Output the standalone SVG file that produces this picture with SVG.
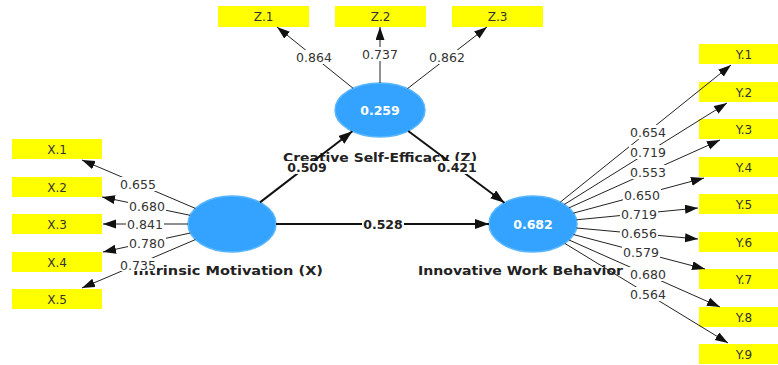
<svg xmlns="http://www.w3.org/2000/svg" width="778" height="365" viewBox="0 0 778 365">
<style>
.ind rect{fill:#ffff00}
.ind text{font-family:"DejaVu Sans","Liberation Sans",sans-serif;font-size:12px;fill:#333;text-anchor:middle}
.lv ellipse{fill:#33a3ff;stroke:#5ab6ff;stroke-width:1.5}
.lv .val{font-family:"DejaVu Sans","Liberation Sans",sans-serif;font-size:12.5px;font-weight:bold;fill:#fff;text-anchor:middle}
.name{font-family:"DejaVu Sans","Liberation Sans",sans-serif;font-size:13px;font-weight:bold;fill:#222}
.ld{stroke:#222;stroke-width:1;fill:none;marker-end:url(#ah)}
.pth{stroke:#111;stroke-width:2;fill:none;marker-end:url(#ah2)}
.bg{fill:#fff}
.lt{font-family:"DejaVu Sans","Liberation Sans",sans-serif;font-size:12.5px;fill:#333;text-anchor:middle}
.pt{font-family:"DejaVu Sans","Liberation Sans",sans-serif;font-size:12.5px;font-weight:bold;fill:#222;text-anchor:middle}
</style>
<defs>
<marker id="ah" markerUnits="userSpaceOnUse" markerWidth="14" markerHeight="10" refX="13" refY="4.5" orient="auto"><path d="M0,0 L13,4.5 L0,9 z" fill="#111"/></marker>
<marker id="ah2" markerUnits="userSpaceOnUse" markerWidth="15" markerHeight="11" refX="14" refY="5" orient="auto"><path d="M0,0 L14,5 L0,10 z" fill="#111"/></marker>
</defs>
<rect width="778" height="365" fill="#fff"/>

<g id="x1" class="ind"><rect x="12" y="139" width="90" height="20"/><text x="57" y="153.5">X.1</text></g>
<g id="x2" class="ind"><rect x="12" y="177" width="90" height="20"/><text x="57" y="191.5">X.2</text></g>
<g id="x3" class="ind"><rect x="12" y="214" width="90" height="20"/><text x="57" y="228.5">X.3</text></g>
<g id="x4" class="ind"><rect x="12" y="252" width="90" height="20"/><text x="57" y="266.5">X.4</text></g>
<g id="x5" class="ind"><rect x="12" y="289" width="90" height="20"/><text x="57" y="303.5">X.5</text></g>

<g id="z1" class="ind"><rect x="218" y="6" width="91" height="21"/><text x="263.5" y="21">Z.1</text></g>
<g id="z2" class="ind"><rect x="335" y="6" width="91" height="21"/><text x="380.5" y="21">Z.2</text></g>
<g id="z3" class="ind"><rect x="452" y="6" width="91" height="21"/><text x="497.5" y="21">Z.3</text></g>

<g id="y1" class="ind"><rect x="699" y="44" width="90" height="20"/><text x="744" y="58.5">Y.1</text></g>
<g id="y2" class="ind"><rect x="699" y="82" width="90" height="20"/><text x="744" y="96.5">Y.2</text></g>
<g id="y3" class="ind"><rect x="699" y="119" width="90" height="20"/><text x="744" y="133.5">Y.3</text></g>
<g id="y4" class="ind"><rect x="699" y="157" width="90" height="20"/><text x="744" y="171.5">Y.4</text></g>
<g id="y5" class="ind"><rect x="699" y="194" width="90" height="20"/><text x="744" y="208.5">Y.5</text></g>
<g id="y6" class="ind"><rect x="699" y="232" width="90" height="20"/><text x="744" y="246.5">Y.6</text></g>
<g id="y7" class="ind"><rect x="699" y="269" width="90" height="20"/><text x="744" y="283.5">Y.7</text></g>
<g id="y8" class="ind"><rect x="699" y="307" width="90" height="20"/><text x="744" y="321.5">Y.8</text></g>
<g id="y9" class="ind"><rect x="699" y="344" width="90" height="20"/><text x="744" y="358.5">Y.9</text></g>

<g id="X" class="lv"><ellipse cx="232" cy="224" rx="44" ry="28"/><text class="name" x="133" y="275" textLength="190" lengthAdjust="spacingAndGlyphs">Intrinsic Motivation (X)</text></g>
<g id="Z" class="lv"><ellipse cx="380" cy="110" rx="45" ry="27"/><text class="val" x="380" y="114.5">0.259</text><text class="name" x="283" y="162" textLength="194" lengthAdjust="spacingAndGlyphs">Creative Self-Efficacy (Z)</text></g>
<g id="Y" class="lv"><ellipse cx="533" cy="224" rx="44" ry="28"/><text class="val" x="533" y="228.5">0.682</text><text class="name" x="418" y="275" textLength="205" lengthAdjust="spacingAndGlyphs">Innovative Work Behavior</text></g>

<g id="connectors">
<line class="ld" x1="195.4" y1="208.4" x2="82" y2="160"/>
<line class="ld" x1="190.2" y1="215.3" x2="102" y2="197"/>
<line class="ld" x1="188" y1="224" x2="103" y2="224"/>
<line class="ld" x1="190.3" y1="233" x2="103" y2="252"/>
<line class="ld" x1="195.4" y1="239.6" x2="82" y2="288"/>

<line class="ld" x1="353.1" y1="88.3" x2="277" y2="27"/>
<line class="ld" x1="380" y1="83" x2="380" y2="27"/>
<line class="ld" x1="407.5" y1="88.6" x2="487" y2="27"/>

<line class="ld" x1="560.3" y1="202.1" x2="731" y2="65"/>
<line class="ld" x1="564.4" y1="204.4" x2="727" y2="103"/>
<line class="ld" x1="568.9" y1="207.9" x2="720" y2="140"/>
<line class="ld" x1="573.5" y1="213.1" x2="704" y2="178"/>
<line class="ld" x1="576.5" y1="219.8" x2="698" y2="208"/>
<line class="ld" x1="576.5" y1="228" x2="698" y2="239"/>
<line class="ld" x1="573.7" y1="234.6" x2="705" y2="269"/>
<line class="ld" x1="569.1" y1="240" x2="720" y2="307"/>
<line class="ld" x1="564.8" y1="243.4" x2="728" y2="343"/>

<line class="pth" x1="260" y1="202.4" x2="352.4" y2="131.3"/>
<line class="pth" x1="408.2" y1="131" x2="504.4" y2="202.7"/>
<line class="pth" x1="276" y1="224" x2="489" y2="224"/>

<g>
<rect class="bg" x="119" y="177" width="38" height="14"/><text class="lt" x="138" y="188.5">0.655</text>
<rect class="bg" x="128" y="199" width="38" height="14"/><text class="lt" x="147" y="210.5">0.680</text>
<rect class="bg" x="126" y="217" width="38" height="14"/><text class="lt" x="145" y="228.5">0.841</text>
<rect class="bg" x="128" y="236" width="38" height="14"/><text class="lt" x="147" y="247.5">0.780</text>
<rect class="bg" x="119" y="258" width="38" height="13"/><text class="lt" x="138" y="269.5">0.735</text>

<rect class="bg" x="295" y="50" width="38" height="14"/><text class="lt" x="314" y="61.5">0.864</text>
<rect class="bg" x="361" y="47" width="38" height="14"/><text class="lt" x="380" y="58.5">0.737</text>
<rect class="bg" x="428" y="50" width="38" height="14"/><text class="lt" x="447" y="61.5">0.862</text>

<rect class="bg" x="629" y="125" width="38" height="14"/><text class="lt" x="648" y="136.5">0.654</text>
<rect class="bg" x="629" y="145" width="38" height="14"/><text class="lt" x="648" y="156.5">0.719</text>
<rect class="bg" x="629" y="165" width="38" height="14"/><text class="lt" x="648" y="176.5">0.553</text>
<rect class="bg" x="623" y="188" width="38" height="14"/><text class="lt" x="642" y="199.5">0.650</text>
<rect class="bg" x="620" y="207" width="38" height="14"/><text class="lt" x="639" y="218.5">0.719</text>
<rect class="bg" x="620" y="226" width="38" height="14"/><text class="lt" x="639" y="237.5">0.656</text>
<rect class="bg" x="622" y="245" width="38" height="14"/><text class="lt" x="641" y="256.5">0.579</text>
<rect class="bg" x="629" y="267" width="38" height="14"/><text class="lt" x="648" y="278.5">0.680</text>
<rect class="bg" x="629" y="287" width="38" height="14"/><text class="lt" x="648" y="298.5">0.564</text>

<rect class="bg" x="286" y="161" width="42" height="13"/><text class="pt" x="307" y="171.5">0.509</text>
<rect class="bg" x="436" y="161" width="42" height="13"/><text class="pt" x="457" y="171.5">0.421</text>
<rect class="bg" x="362" y="217" width="42" height="14"/><text class="pt" x="383" y="228.5">0.528</text>
</g>
</g>
</svg>
